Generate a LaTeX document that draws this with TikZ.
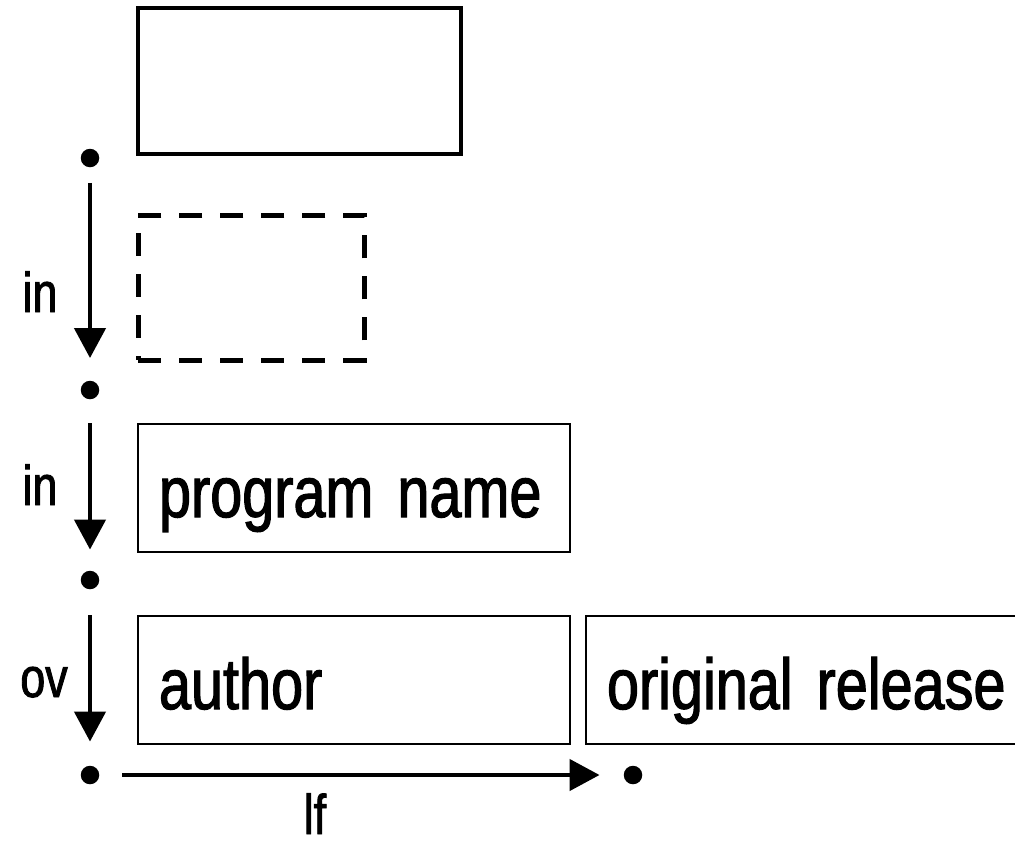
\documentclass[tikz,border=0pt]{standalone}
\usepackage{fontspec}
\setmainfont{Liberation Sans}[FakeStretch=0.8, FakeBold=1.6]
\usetikzlibrary{arrows.meta}

\begin{document}
\begin{tikzpicture}[x=1pt,y=-1pt,
  field/.style={draw, line width=2pt, rectangle, anchor=north west,
    inner xsep=21pt, inner ysep=0pt, align=left, text width=390pt,
    text height=60pt, text depth=2pt, minimum height=128pt,
    font=\fontsize{72}{80}\selectfont},
  dot/.style={circle, fill, inner sep=0pt, minimum size=18.5pt},
  flow/.style={line width=4.5pt, -{Triangle[length=30pt,width=31pt]}},
  lab/.style={anchor=base, inner sep=0pt, text depth=0pt,
    font=\fontsize{56}{60}\selectfont}]

\useasboundingbox (0,0) rectangle (1015,844);

% empty record and the slot that will hold it
\node[draw, line width=4pt, rectangle, anchor=north west, inner sep=0pt,
      minimum width=323pt, minimum height=146pt] (head) at (136,6) {};
\node[draw, line width=4.5pt, dash pattern=on 23pt off 18pt, rectangle,
      anchor=north west, inner sep=0pt,
      minimum width=226pt, minimum height=145pt] (slot) at (136,213) {};

% filled fields
\node[field] (prog) at (137,423) {program name};
\node[field] (auth) at (137,615) {author};
\node[field, text width=420pt] (orig) at (585,615) {original release};

% cursor positions
\node[dot] (d1) at (90,158) {};
\node[dot] (d2) at (90,390) {};
\node[dot] (d3) at (90,580) {};
\node[dot] (d4) at (90,775) {};
\node[dot] (d5) at (633,775) {};

% moves between positions
\draw[flow, shorten <=15.5pt, shorten >=22.5pt] (d1) -- (d2);
\draw[flow, shorten <=24pt, shorten >=21pt] (d2) -- (d3);
\draw[flow, shorten <=26pt, shorten >=24pt] (d3) -- (d4);
\draw[flow, shorten <=23pt, shorten >=24pt] (d4) -- (d5);

% move labels
\node[lab] (l1) at (40,312) {in};
\node[lab] (l2) at (40,505) {in};
\node[lab] (l3) at (44,697) {ov};
\node[lab] (l4) at (315,834) {lf};
\end{tikzpicture}
\end{document}
